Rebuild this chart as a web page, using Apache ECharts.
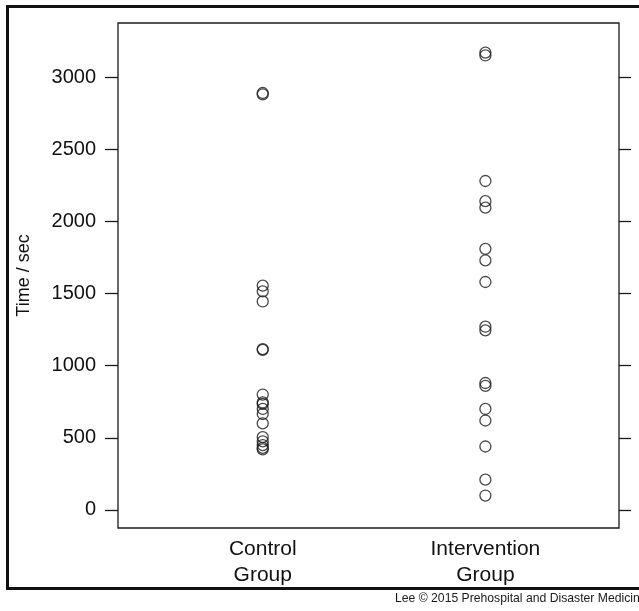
<!DOCTYPE html>
<html>
<head>
<meta charset="utf-8">
<script src="https://cdn.jsdelivr.net/npm/echarts@6/dist/echarts.min.js"></script>
<style>
html,body{margin:0;padding:0;background:#fff;}
#chart{width:639px;height:611px;}
</style>
</head>
<body>
<div id="chart"></div>
<script>
const groupLabels = ['Control\nGroup', 'Intervention\nGroup'];
const groupPositions = [1, 2];
const controlTimes = [2890, 2880, 1555, 1515, 1445, 1115, 1110, 800, 745, 735, 700, 665, 600, 505, 475, 450, 430, 420];
const interventionTimes = [3170, 3150, 2280, 2140, 2095, 1810, 1730, 1580, 1270, 1245, 880, 860, 700, 620, 440, 210, 100];
const yTicks = [0, 500, 1000, 1500, 2000, 2500, 3000];
const footer = 'Lee © 2015 Prehospital and Disaster Medicine';

const FONT = 'Liberation Sans, Arial, Helvetica, sans-serif';
const chart = echarts.init(document.getElementById('chart'), null, {renderer: 'canvas'});

const circleStyle = {color: 'rgba(0,0,0,0)', borderColor: '#1a1a1a', borderWidth: 1.3};

chart.setOption({
  animation: false,
  backgroundColor: '#fff',
  grid: {left: 118, right: 20, top: 23, bottom: 83, outerBoundsMode: 'none', containLabel: false,
    show: true, borderColor: '#1a1a1a', borderWidth: 1.3, backgroundColor: 'transparent'},
  xAxis: {
    type: 'value', min: 0.35, max: 2.6,
    axisLine: {show: false}, splitLine: {show: false}, axisTick: {show: false},
    axisLabel: {
      customValues: groupPositions,
      formatter: v => groupLabels[groupPositions.indexOf(v)] || '',
      color: '#111', fontFamily: FONT, fontSize: 21, lineHeight: 26, margin: 8
    }
  },
  yAxis: [{
    type: 'value', min: -125, max: 3375, position: 'left',
    name: 'Time / sec', nameLocation: 'middle', nameGap: 85, nameRotate: 90,
    nameTextStyle: {color: '#111', fontFamily: FONT, fontSize: 18},
    axisLine: {show: false}, splitLine: {show: false},
    axisTick: {show: true, customValues: yTicks, length: 13, lineStyle: {color: '#1a1a1a', width: 1.3}},
    axisLabel: {customValues: yTicks, formatter: v => String(v), color: '#111', fontFamily: FONT, fontSize: 20, margin: 22}
  }, {
    type: 'value', min: -125, max: 3375, position: 'right',
    axisLine: {show: false}, splitLine: {show: false},
    axisTick: {show: true, customValues: yTicks, length: 12, lineStyle: {color: '#1a1a1a', width: 1.3}},
    axisLabel: {show: false}
  }],
  series: [{
    type: 'scatter', name: 'Control', symbol: 'circle', symbolSize: 11,
    itemStyle: circleStyle,
    data: controlTimes.map(v => [groupPositions[0], v])
  }, {
    type: 'scatter', name: 'Intervention', symbol: 'circle', symbolSize: 11,
    itemStyle: circleStyle,
    data: interventionTimes.map(v => [groupPositions[1], v])
  }],
  graphic: [{
    type: 'rect', shape: {x: 7.5, y: 6.5, width: 720, height: 582},
    style: {fill: 'none', stroke: '#111', lineWidth: 3}, silent: true
  }, {
    type: 'text', left: 395, top: 593,
    style: {text: footer, fill: '#1a1a1a', font: '12.2px ' + FONT}, silent: true
  }]
});
</script>
</body>
</html>
